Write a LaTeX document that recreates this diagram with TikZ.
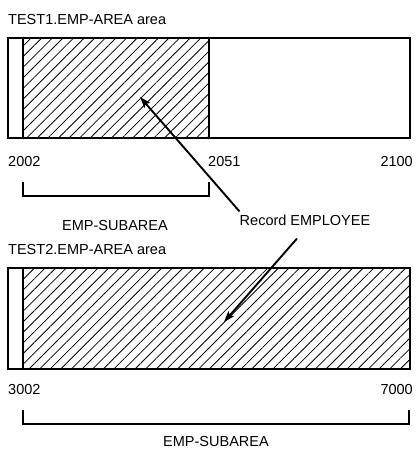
\documentclass[tikz,border=0pt]{standalone}
\usepackage{fontspec}
\setmainfont{Liberation Sans}
\usepackage{tikz}
\usetikzlibrary{arrows.meta,positioning,patterns.meta}
\tikzset{
  lbl/.style={font=\fontsize{14.5}{17}\selectfont, inner sep=0pt},
  areabox/.style={line width=2.6pt},
  hatch/.style={pattern={Lines[angle=45, distance=7.5pt, line width=0.8pt]}},
  brk/.style={line width=2.6pt},
  recarr/.style={-{Stealth[length=11pt, width=7.5pt, inset=2pt]}, line width=1.9pt},
}

\begin{document}
\begin{tikzpicture}[x=1pt, y=1pt]
  \useasboundingbox (0,0) rectangle (418,451);
  % first area
  \node[lbl, anchor=west] (t1) at (8,431) {TEST1.EMP-AREA area};
  \fill[hatch] (23,413) rectangle (209,313);
  \draw[areabox] (8,413) rectangle (410,313);
  \draw[areabox] (23,413) -- (23,313);
  \draw[areabox] (209,413) -- (209,313);
  \coordinate (h1) at (140,354);
  \node[lbl, anchor=west] (p1) at (8,289) {2002};
  \node[lbl, anchor=west] (p2) at (208,289) {2051};
  \node[lbl, anchor=east] (p3) at (413,289) {2100};
  \draw[brk] (23,269) |- (209,255) -- (209,269);
  \node[lbl] (s1) at (115,225) {EMP-SUBAREA};
  % record
  \node[lbl] (rec) at (305,231) {Record EMPLOYEE};
  % second area
  \node[lbl, anchor=west] (t2) at (8,201) {TEST2.EMP-AREA area};
  \fill[hatch] (23,183) rectangle (410,82);
  \draw[areabox] (8,183) rectangle (410,82);
  \draw[areabox] (23,183) -- (23,82);
  \coordinate (h2) at (224,129);
  \node[lbl, anchor=west] (q1) at (8,61) {3002};
  \node[lbl, anchor=east] (q2) at (413,61) {7000};
  \draw[brk] (23,41) |- (409,27) -- (409,41);
  \node[lbl] (s2) at (216,9) {EMP-SUBAREA};
  \draw[recarr] ([yshift=3pt]rec.north west) -- (h1);
  \draw[recarr] ([shift={(-8,-13)}]rec.south) -- (h2);
\end{tikzpicture}
\end{document}
